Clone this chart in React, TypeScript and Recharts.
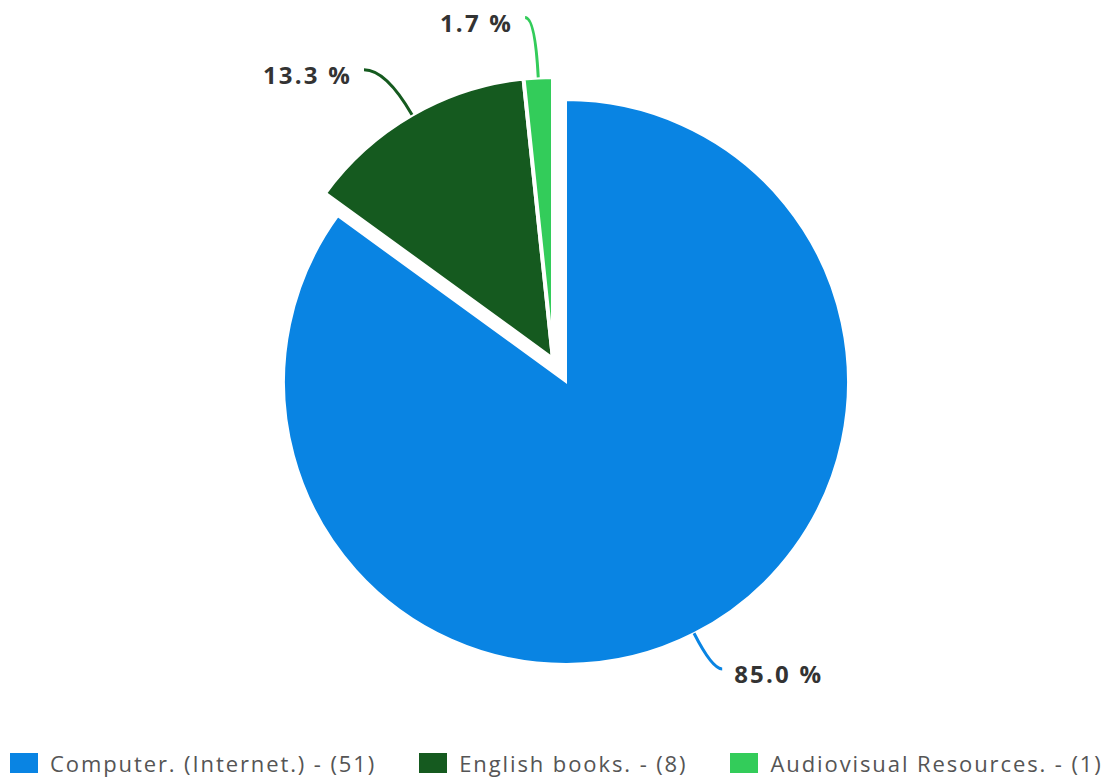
import React from 'react';
import { PieChart, Pie, Cell, Legend } from 'recharts';

const categories = ['Computer. (Internet.)', 'English books.', 'Audiovisual Resources.'];
const counts = [51, 8, 1];
const colors = ['#0984e3', '#155a1f', '#33cc5a'];

const data = categories.map((name, i) => ({ name, value: counts[i] }));

// label line layout per slice
const LABEL_EXT = [40, 52, 60];
const LABEL_HORIZ = [10, 22, 10];
const RADIAN = Math.PI / 180;
const FONT = '"Open Sans", sans-serif';

const renderLabel = (show: (i: number) => boolean) => (props: any) => {
  const { cx, cy, midAngle, outerRadius, percent, index } = props;
  if (!show(index)) return null;
  const cos = Math.cos(-midAngle * RADIAN);
  const sin = Math.sin(-midAngle * RADIAN);
  const x0 = cx + outerRadius * cos;
  const y0 = cy + outerRadius * sin;
  const r1 = outerRadius + LABEL_EXT[index];
  const x1 = cx + r1 * cos;
  const y1 = cy + r1 * sin;
  const dir = cos >= 0 ? 1 : -1;
  const x2 = x1 + dir * LABEL_HORIZ[index];
  return (
    <g>
      <path
        d={`M${x0},${y0} Q${x1},${y1} ${x2},${y1}`}
        stroke={colors[index]}
        strokeWidth={3}
        fill="none"
      />
      <text
        x={x2 + dir * 12}
        y={y1 + 5}
        textAnchor={dir > 0 ? 'start' : 'end'}
        dominantBaseline="central"
        fill="#333"
        fontSize={24}
        fontWeight={700}
        fontFamily={FONT}
        letterSpacing={2.2}
      >
        {`${(percent * 100).toFixed(1)} %`}
      </text>
    </g>
  );
};

const LegendContent = () => (
  <div
    style={{
      display: 'flex',
      alignItems: 'center',
      paddingLeft: 10,
      fontFamily: FONT,
      fontSize: 22,
      letterSpacing: 1.9,
      color: '#555',
      whiteSpace: 'nowrap',
    }}
  >
    {categories.map((c, i) => (
      <div key={c} style={{ display: 'flex', alignItems: 'center', marginRight: 43, flexShrink: 0 }}>
        <span style={{ width: 28, height: 20, background: colors[i], display: 'inline-block', marginRight: 12 }} />
        <span>{`${c} - (${counts[i]})`}</span>
      </div>
    ))}
  </div>
);

export default function App() {
  return (
    <div style={{ position: 'absolute', left: 0, top: 0, width: 1106, height: 781, background: '#fff' }}>
      <PieChart width={1106} height={781} margin={{ top: 0, right: 0, bottom: 0, left: 0 }}>
        <Pie
          data={data}
          dataKey="value"
          cx={566}
          cy={382}
          outerRadius={282}
          startAngle={90}
          endAngle={-270}
          isAnimationActive={false}
          labelLine={false}
          label={renderLabel((i) => i === 0)}
        >
          {data.map((d, i) => (
            <Cell key={d.name} fill={i === 0 ? colors[i] : 'transparent'} stroke={i === 0 ? '#fff' : 'none'} strokeWidth={2} />
          ))}
        </Pie>
        <Pie
          data={data}
          dataKey="value"
          cx={553}
          cy={359}
          outerRadius={282}
          startAngle={90}
          endAngle={-270}
          isAnimationActive={false}
          labelLine={false}
          label={renderLabel((i) => i !== 0)}
        >
          {data.map((d, i) => (
            <Cell key={d.name} fill={i === 0 ? 'transparent' : colors[i]} stroke={i === 0 ? 'none' : '#fff'} strokeWidth={4} />
          ))}
        </Pie>
        <Legend
          content={<LegendContent />}
          wrapperStyle={{ position: 'absolute', left: 0, top: 748, width: 1106 }}
        />
      </PieChart>
    </div>
  );
}
